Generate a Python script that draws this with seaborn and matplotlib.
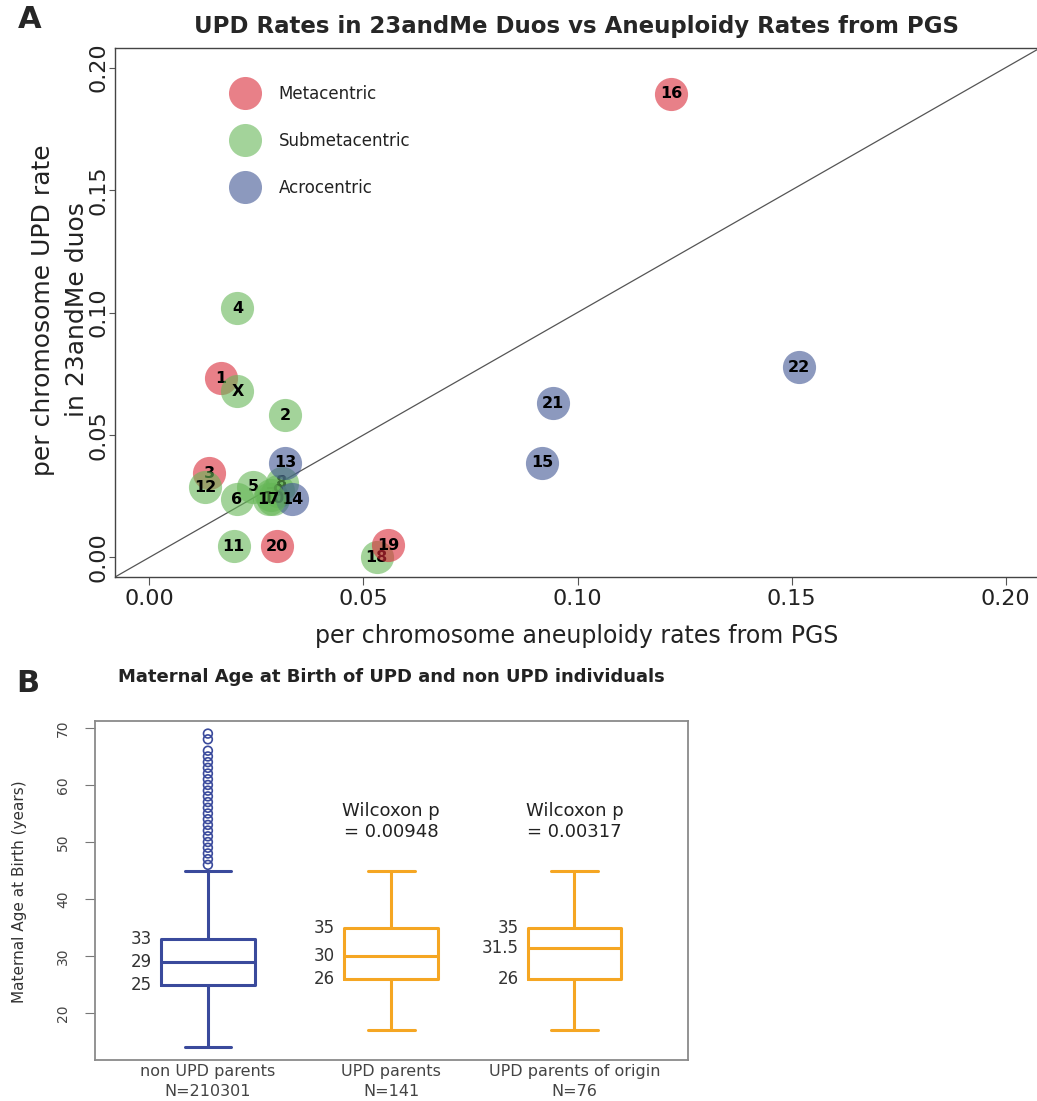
import numpy as np
import pandas as pd
import matplotlib
matplotlib.use('Agg')
import matplotlib.pyplot as plt
from matplotlib.lines import Line2D
from matplotlib.ticker import FormatStrFormatter
import seaborn as sns

# ---- panel A: per chromosome rates ----
chrom = ['1', '2', '3', '4', '5', '6', '7', '8', '9', '10', '11', '12',
         '13', '14', '15', '16', '17', '18', '19', '20', '21', '22', 'X']
aneu_rate = [0.0167, 0.0317, 0.0140, 0.0206, 0.0242, 0.0205, 0.0285, 0.0310,
             0.0300, 0.0290, 0.0197, 0.0131, 0.0317, 0.0333, 0.0917, 0.1218,
             0.0279, 0.0531, 0.0558, 0.0298, 0.0943, 0.1517, 0.0206]
upd_rate = [0.0731, 0.0581, 0.0343, 0.1017, 0.0289, 0.0238, 0.0255, 0.0305,
            0.0270, 0.0240, 0.0046, 0.0286, 0.0387, 0.0238, 0.0386, 0.1894,
            0.0238, 0.0001, 0.0049, 0.0046, 0.0630, 0.0776, 0.0679]
centro = ['Metacentric', 'Submetacentric', 'Metacentric', 'Submetacentric',
          'Submetacentric', 'Submetacentric', 'Submetacentric', 'Submetacentric',
          'Submetacentric', 'Submetacentric', 'Submetacentric', 'Submetacentric',
          'Acrocentric', 'Acrocentric', 'Acrocentric', 'Metacentric',
          'Submetacentric', 'Submetacentric', 'Metacentric', 'Metacentric',
          'Acrocentric', 'Acrocentric', 'Submetacentric']
centro_types = ['Metacentric', 'Submetacentric', 'Acrocentric']
centro_cols = {'Metacentric': '#DA2B39', 'Submetacentric': '#66B757', 'Acrocentric': '#3F5593'}

# ---- panel B: maternal age summaries ----
groups = ['non UPD parents\nN=210301', 'UPD parents\nN=141', 'UPD parents of origin\nN=76']
whis_low = [14, 17, 17]
q1 = [25, 26, 26]
med = [29, 30, 31.5]
q3 = [33, 35, 35]
whis_high = [45, 45, 45]
outliers = [46, 47, 48, 49, 50, 51, 52, 53, 54, 55, 56, 57, 58, 59, 60,
            61, 62, 63, 64, 65, 66, 68, 69]
p_values = ['', '0.00948', '0.00317']
blue = '#3A4A9C'
orange = '#F5A623'

sns.set_style('white')
plt.rcParams['font.family'] = ['DejaVu Sans']

fig = plt.figure(figsize=(10.37, 11.01), dpi=100)

# ================= panel A =================
df = pd.DataFrame({'chrom': chrom, 'aneu': aneu_rate, 'upd': upd_rate, 'type': centro})
axA = fig.add_axes([0.1109, 0.4759, 0.8920, 0.4805])
# 一个点一个点画，后画的圆会盖住前面的数字
for i, row in df.iterrows():
    sns.scatterplot(x=[row['aneu']], y=[row['upd']], color=centro_cols[row['type']],
                    s=570, alpha=0.6, linewidth=0, ax=axA, zorder=3 + 2 * i, legend=False)
    axA.text(row['aneu'], row['upd'], row['chrom'], ha='center', va='center',
             fontsize=11.5, fontweight='bold', color='black', zorder=4 + 2 * i)
axA.axline((0, 0), (0.2, 0.2), color='#555555', lw=0.9, zorder=2)
axA.set_xlim(-0.008, 0.208)
axA.set_ylim(-0.008, 0.208)
axA.set_xticks([0, 0.05, 0.10, 0.15, 0.20])
axA.set_yticks([0, 0.05, 0.10, 0.15, 0.20])
axA.xaxis.set_major_formatter(FormatStrFormatter('%.2f'))
axA.yaxis.set_major_formatter(FormatStrFormatter('%.2f'))
axA.tick_params(axis='x', labelsize=16, length=6, width=0.8, color='#555555',
                labelcolor='#222222', pad=2.5, direction='out', bottom=True)
axA.tick_params(axis='y', labelsize=16, length=4.5, width=0.8, color='#555555',
                labelcolor='#222222', pad=0.5, direction='out', left=True)
for lab in axA.get_yticklabels():
    lab.set_rotation(90)
    lab.set_va('center')
for sp in axA.spines.values():
    sp.set_color('#444444')
    sp.set_linewidth(1.0)
axA.set_xlabel('')
axA.set_ylabel('')

handles = [Line2D([0], [0], marker='o', ls='', markersize=23.8, markerfacecolor=centro_cols[t],
                  markeredgecolor='none', alpha=0.6) for t in centro_types]
axA.legend(handles, centro_types, loc='upper left', bbox_to_anchor=(0.1227, 0.931),
           frameon=False, fontsize=12, labelspacing=1.75, handletextpad=1.0,
           borderpad=0, borderaxespad=0, labelcolor='#222222')

fig.text(577 / 1037, 1 - 26 / 1101, 'UPD Rates in 23andMe Duos vs Aneuploidy Rates from PGS',
         ha='center', va='center', fontsize=16.5, fontweight='bold')
fig.text(30 / 1037, 1 - 20 / 1101, 'A', ha='center', va='center', fontsize=22, fontweight='bold')
fig.text(577 / 1037, 1 - 636 / 1101, 'per chromosome aneuploidy rates from PGS',
         ha='center', va='center', fontsize=17, color='#222222')
fig.text(60 / 1037, 1 - 310 / 1101, 'per chromosome UPD rate\nin 23andMe duos',
         ha='center', va='center', rotation=90, fontsize=18, color='#222222',
         multialignment='center', linespacing=1.5)

# ================= panel B =================
rows = []
for g, a, b, c, d, e in zip(groups, whis_low, q1, med, q3, whis_high):
    for v in (a, b, c, d, e):
        rows.append({'group': g, 'age': v})
dfb = pd.DataFrame(rows)

axB = fig.add_axes([0.0916, 0.0372, 0.5718, 0.3079])
sns.boxplot(data=dfb, x='group', y='age', hue='group', order=groups, hue_order=groups,
            palette=[blue, orange, orange], fill=False, width=0.51, linewidth=2.2,
            showfliers=False, legend=False, ax=axB)
axB.scatter([0] * len(outliers), outliers, s=40, facecolors='none', edgecolors=blue,
            linewidths=1.2, zorder=3)

for i in range(len(groups)):
    for v in (q3[i], med[i], q1[i]):
        axB.text(i - 0.255 - 0.05, v, '{:g}'.format(v), ha='right', va='center',
                 fontsize=12, color='#333333')
    if p_values[i]:
        axB.text(i, 53.6, 'Wilcoxon p\n= ' + p_values[i], ha='center', va='center',
                 fontsize=13, color='#222222', linespacing=1.15)

axB.set_xlim(-0.616, 2.619)
axB.set_ylim(11.8, 71.2)
axB.set_yticks([20, 30, 40, 50, 60, 70])
axB.set_xlabel('')
axB.set_ylabel('')
axB.tick_params(axis='y', labelsize=10, length=7, width=0.8, color='#777777',
                labelcolor='#444444', pad=11, left=True)
axB.tick_params(axis='x', labelsize=11.5, length=0, labelcolor='#444444', pad=2.5)
for lab in axB.get_xticklabels():
    lab.set_linespacing(1.45)
for lab in axB.get_yticklabels():
    lab.set_rotation(90)
    lab.set_va('center')
for sp in axB.spines.values():
    sp.set_color('#8a8a8a')
    sp.set_linewidth(1.3)

fig.text(391 / 1037, 1 - 677 / 1101, 'Maternal Age at Birth of UPD and non UPD individuals',
         ha='center', va='center', fontsize=13, fontweight='bold', color='#222222')
fig.text(28 / 1037, 1 - 683 / 1101, 'B', ha='center', va='center', fontsize=22, fontweight='bold')
fig.text(20 / 1037, 1 - 892 / 1101, 'Maternal Age at Birth (years)', ha='center', va='center',
         rotation=90, fontsize=11, color='#333333')

fig.savefig('out.png', dpi=100)
